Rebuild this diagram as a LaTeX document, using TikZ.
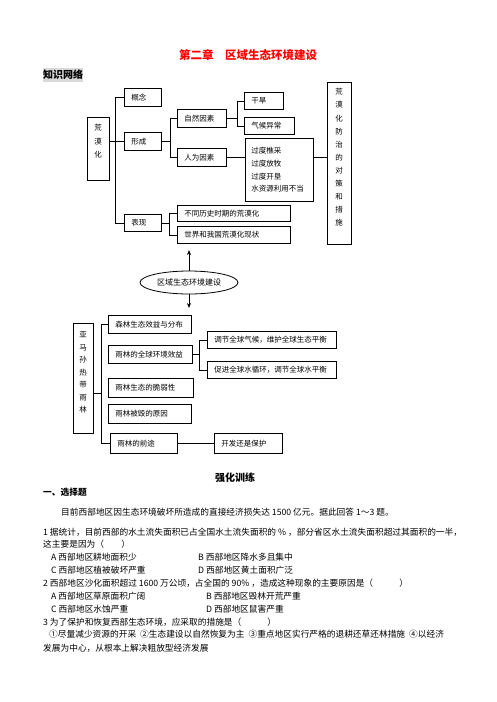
\documentclass[tikz,border=0pt]{standalone}
\usepackage{fontspec}
\setmainfont{Noto Sans CJK SC}
\usetikzlibrary{shapes.geometric,arrows.meta}
\newcommand\bxf{\fontsize{7.5pt}{9pt}\selectfont}
\newcommand\qf{\fontsize{8.7pt}{13pt}\selectfont}
\newcommand\bbox[6]{%
 \pgfmathsetmacro\bbw{#4-#2}%
 \pgfmathsetmacro\bbh{#5-#3}%
 \pgfmathsetmacro\bbt{#4-#2-14}%
 \node[box, minimum width=\bbw pt, minimum height=\bbh pt, text width=\bbt pt] (#1) at (#2,#3) {#6};}
\begin{document}
\begin{tikzpicture}[x=1pt,y=-1pt,
  box/.style={draw, line width=0.8pt, anchor=north west, inner xsep=7pt, inner ysep=0pt, align=left, font=\bxf, text height=6.6pt, text depth=0.9pt},
  wire/.style={line width=0.8pt},
  vtext/.style={align=center, inner sep=0},
  ql/.style={anchor=west, inner sep=0, font=\qf, text height=7.65pt, text depth=1.05pt},
  arr/.style={line width=0.8pt, -{Stealth[length=5pt,width=4pt]}}]
\fill[white] (0,0) rectangle (496,702);
\useasboundingbox (0,0) rectangle (496,702);

% headings
\node[font=\fontsize{11.5pt}{13pt}\selectfont\bfseries, text=red, inner sep=0] (title) at (248,55) {第二章　区域生态环境建设};
\node[font=\fontsize{10pt}{12pt}\selectfont\bfseries, fill=gray!30, inner xsep=0pt, inner ysep=2pt, anchor=west] (zs) at (43,75) {知识网络};

% top diagram
\bbox{hmh}{87}{117}{109}{180}{}
\node[vtext, font=\fontsize{7.5pt}{13.5pt}\selectfont] (hmhT) at (98,141.5) {荒\\漠\\化};
\bbox{gn}{124}{88}{161}{106}{概念}
\bbox{xc}{124}{132}{161}{150}{形成}
\bbox{bx}{124}{214}{161}{231}{表现}
\bbox{zr}{177}{109}{226}{127}{自然因素}
\bbox{rw}{177}{148}{226}{166}{人为因素}
\bbox{gh}{244}{92}{283}{109}{干旱}
\bbox{qh}{244}{117}{294}{134}{气候异常}
\node[draw, line width=0.8pt, anchor=north west, minimum width=68pt, minimum height=63pt, text width=56pt, inner xsep=6pt, inner ysep=0pt, align=left, font=\fontsize{7.5pt}{12.7pt}\selectfont] (gd) at (245,138) {过度樵采\\过度放牧\\过度开垦\\水资源利用不当};
\bbox{dc}{327}{82}{351}{244}{}
\node[vtext, font=\fontsize{7.5pt}{13.1pt}\selectfont] (dcT) at (339,157.5) {荒\\漠\\化\\防\\治\\的\\对\\策\\和\\措\\施};
\bbox{bt}{177}{205}{290}{221}{不同历史时期的荒漠化}
\bbox{sj}{177}{226}{290}{243}{世界和我国荒漠化现状}

\draw[wire] (gn.west) -- ++(-9,0) |- (bx.west);
\draw[wire] (hmh.east |- xc.west) -- (xc.west);
\draw[wire] (xc.east) -- ++(9,0);
\draw[wire] (zr.west) -- ++(-7,0) |- (rw.west);
\draw[wire] (zr.east) -- ++(11,0);
\draw[wire] (gh.west) -- ++(-7,0) |- (qh.west);
\draw[wire] (rw.east) -- (rw.east -| gd.west);
\draw[wire] (gd.east |- rw.east) -- (dc.west |- rw.east);
\draw[wire] (bx.east) -- ++(8,0);
\draw[wire] (bt.west) -- ++(-8,0) |- (sj.west);

% centre ellipse
\node[draw, ellipse, line width=0.8pt, minimum width=98pt, minimum height=23pt, inner sep=0pt, font=\fontsize{8pt}{9pt}\selectfont] (eco) at (189,282.5) {区域生态环境建设};
\coordinate (upend) at (189,250);
\coordinate (dnend) at (189,308);
\draw[arr] (eco.north) -- (upend);
\draw[arr] (eco.south) -- (dnend);

% bottom diagram
\bbox{yml}{73}{323}{93}{433}{}
\node[vtext, font=\fontsize{7.5pt}{12.5pt}\selectfont] (ymlT) at (83,372.5) {亚\\马\\孙\\热\\带\\雨\\林};
\bbox{sl}{108}{315}{191}{333}{森林生态效益与分布}
\bbox{qq}{108}{345}{192}{363}{雨林的全球环境效益}
\bbox{cr}{108}{378}{193}{397}{雨林生态的脆弱性}
\bbox{hy}{108}{404}{191}{423}{雨林被毁的原因}
\bbox{qt}{110}{433}{177}{453}{雨林的前途}
\bbox{tj}{207}{331}{336}{348}{调节全球气候，维护全球生态平衡}
\bbox{cj}{207}{361}{336}{378}{促进全球水循环，调节全球水平衡}
\bbox{kf}{214}{433}{282}{453}{开发还是保护}

\draw[wire] ([yshift=-15pt]yml.east) -- ++(8,0);
\draw[wire] (sl.west) -- ++(-7,0) |- (qt.west);
\draw[wire] (qq.east) -- ++(7,0);
\draw[wire] (tj.west) -- ++(-8,0) |- (cj.west);
\draw[wire] (qt.east) -- (kf.west);

% exercises
\node[font=\fontsize{10pt}{12pt}\selectfont\bfseries, inner sep=0] (qh1) at (235,478) {强化训练};
\node[ql, font=\qf\bfseries] (qh2) at (43,492) {一、选择题};
\node[ql] (l0) at (61,512) {目前西部地区因生态环境破坏所造成的直接经济损失达 1500 亿元。据此回答 1～3 题。};
\node[ql] (l1) at (43,532) {1 据统计，目前西部的水土流失面积已占全国水土流失面积的 \% ，部分省区水土流失面积超过其面积的一半，};
\node[ql] (l2) at (43,544) {这主要是因为（　　）};
\node[ql] (l3a) at (51,557) {A 西部地区耕地面积少};
\node[ql] (l3b) at (198,557) {B 西部地区降水多且集中};
\node[ql] (l4a) at (51,570) {C 西部地区植被破坏严重};
\node[ql] (l4b) at (198,570) {D 西部地区黄土面积广泛};
\node[ql] (l5) at (43,583) {2 西部地区沙化面积超过 1600 万公顷，占全国的 90\% ，造成这种现象的主要原因是（　　　）};
\node[ql] (l6a) at (51,596) {A 西部地区草原面积广阔};
\node[ql] (l6b) at (206,596) {B 西部地区毁林开荒严重};
\node[ql] (l7a) at (51,609) {C 西部地区水蚀严重};
\node[ql] (l7b) at (206,609) {D 西部地区鼠害严重};
\node[ql] (l8) at (43,622) {3 为了保护和恢复西部生态环境，应采取的措施是（　　　）};
\node[ql] (l9) at (49,634) {①尽量减少资源的开采\hspace{4pt}②生态建设以自然恢复为主\hspace{4pt}③重点地区实行严格的退耕还草还林措施\hspace{4pt}④以经济};
\node[ql] (l10) at (43,648) {发展为中心，从根本上解决粗放型经济发展};
\end{tikzpicture}
\end{document}
